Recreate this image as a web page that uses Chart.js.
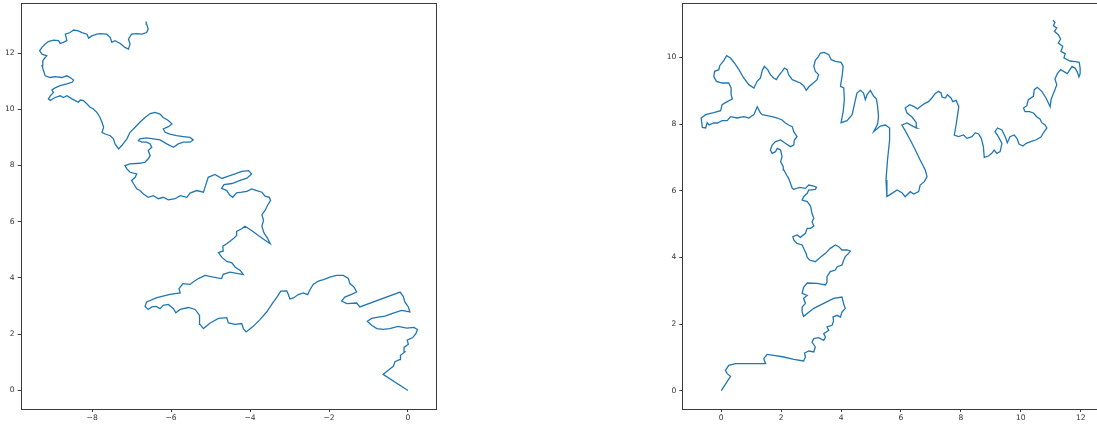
<!DOCTYPE html>
<html>
<head>
<meta charset="utf-8">
<script src="https://cdn.jsdelivr.net/npm/chart.js@4.4.1/dist/chart.umd.min.js"></script>
<style>
  html, body { margin: 0; padding: 0; background: #ffffff; overflow: hidden; width: 1097px; height: 426px; }
  #wrapL { position: absolute; left: 0px; top: 0px; width: 440px; height: 426px; }
  #wrapR { position: absolute; left: 660px; top: 0px; width: 445px; height: 426px; }
</style>
</head>
<body>
<div id="wrapL"><canvas id="cL" width="440" height="426"></canvas></div>
<div id="wrapR"><canvas id="cR" width="445" height="426"></canvas></div>
<script>
// ---------------- data: left path ----------------
const leftX = [
  0, -0.63, -0.5, -0.37, -0.33, -0.2, -0.19, -0.08, -0.1, 0.01, -0.02, 0.12, 0.2, 0.24, 0.15, -0.03, -0.25, -0.46, -0.63, -0.79, -0.92, -1.03, -0.92, -0.75, -0.58, -0.41, -0.16, 0.05, 0.01, -0.08, -0.12, -0.2,
  -1.22, -1.3, -1.55, -1.68, -1.6, -1.43, -1.3, -1.37, -1.47, -1.51, -1.64, -1.81, -1.98, -2.14, -2.27, -2.4, -2.48, -2.54, -2.65, -2.78, -2.9, -2.99, -3.03, -3.07, -3.22, -3.32, -3.45, -3.58, -3.75, -3.92, -4.1, -4.17, -4.21, -4.38, -4.55, -4.59, -4.8, -5.01,
  -5.18, -5.27, -5.28, -5.39, -5.56, -5.77, -5.88, -5.94, -6.07, -6.2, -6.28, -6.38, -6.49, -6.58, -6.66, -6.62, -6.36, -6.03, -5.77, -5.8, -5.7, -5.52, -5.44, -5.31, -5.14, -4.93, -4.72, -4.68, -4.51, -4.17,
  -4.25, -4.38, -4.46, -4.59, -4.72, -4.8, -4.68, -4.69, -4.59, -4.42, -4.34, -4.34, -4.21, -4.13, -3.96, -3.79, -3.62, -3.49, -3.56, -3.65, -3.7, -3.66, -3.7, -3.62, -3.56, -3.48, -3.51, -3.62, -3.7, -3.83, -3.96, -4.08, -4.21, -4.34, -4.44, -4.52, -4.59, -4.72, -4.66, -4.46, -4.25, -4.08, -3.96, -4.04, -4.21, -4.38, -4.55, -4.71, -4.89, -5.06,
  -5.14, -5.18, -5.35, -5.52, -5.6, -5.77, -5.9, -6.07, -6.2, -6.32, -6.45, -6.58, -6.7, -6.79, -6.87, -6.95, -7.0, -6.91, -6.87, -7.04, -7.12, -7.17, -7.04, -6.79, -6.66, -6.58, -6.53, -6.58, -6.49, -6.53, -6.62, -6.74, -6.83, -6.79, -6.62, -6.45, -6.28, -6.11, -5.94, -5.82, -5.69, -5.52, -5.44, -5.52, -5.69, -5.86, -6.03, -6.15, -6.2, -6.07, -5.98, -6.07, -6.2, -6.28, -6.41, -6.53, -6.66, -6.79, -6.91, -7.04, -7.12, -7.25, -7.33, -7.42, -7.46, -7.54, -7.67, -7.75, -7.71, -7.75, -7.8, -7.88, -7.97, -8.05,
  -8.13, -8.22, -8.3, -8.35, -8.43, -8.51, -8.64, -8.73, -8.81, -8.94, -9.06, -9.11, -9.06, -8.98, -9.02, -8.94, -8.81, -8.64, -8.51, -8.47, -8.56, -8.64, -8.77, -8.94, -9.06, -9.19, -9.23, -9.27, -9.25, -9.19, -9.15, -9.27, -9.33, -9.27, -9.19, -9.11, -8.98, -8.85, -8.81, -8.73, -8.64, -8.68, -8.56, -8.47, -8.35, -8.26, -8.13, -8.09, -8.01, -7.88, -7.8, -7.63, -7.54, -7.5, -7.42, -7.29, -7.17, -7.08, -7.04, -7.08, -7.0, -6.87, -6.74, -6.62, -6.58, -6.62, -6.63
];
const leftY = [
  0, 0.57, 0.72, 0.86, 1.02, 1.1, 1.25, 1.37, 1.53, 1.64, 1.79, 1.88, 2.02, 2.17, 2.24, 2.22, 2.28, 2.2, 2.17, 2.2, 2.32, 2.46, 2.56, 2.61, 2.64, 2.73, 2.85, 2.79, 2.97, 3.15, 3.35, 3.5,
  2.97, 3.11, 3.09, 3.18, 3.32, 3.42, 3.5, 3.68, 3.8, 3.98, 4.09, 4.09, 4.03, 3.94, 3.89, 3.77, 3.59, 3.41, 3.47, 3.41, 3.29, 3.25, 3.41, 3.54, 3.53, 3.32, 3.06, 2.79, 2.52, 2.28, 2.08, 2.2, 2.38, 2.35, 2.4, 2.59, 2.56, 2.4,
  2.2, 2.35, 2.67, 2.88, 2.95, 2.88, 2.76, 2.91, 3.06, 3.03, 2.91, 2.99, 2.97, 2.88, 2.99, 3.15, 3.3, 3.42, 3.47, 3.62, 3.8, 3.77, 3.86, 3.98, 4.09, 4.03, 3.98, 4.13, 4.21, 4.12,
  4.27, 4.39, 4.54, 4.59, 4.74, 4.9, 4.96, 5.13, 5.22, 5.4, 5.51, 5.66, 5.75, 5.84, 5.69, 5.51, 5.34, 5.22, 5.42, 5.61, 5.84, 6.05, 6.25, 6.4, 6.58, 6.76, 6.87, 6.91, 7.05, 7.11, 7.17, 7.08, 7.05, 7.03, 6.87, 6.96, 7.11, 7.19, 7.32, 7.36, 7.47, 7.55, 7.7, 7.82, 7.79, 7.7, 7.62, 7.54, 7.68, 7.58,
  7.23, 7.05, 7.11, 7.02, 6.87, 6.93, 6.82, 6.78, 6.87, 6.82, 6.93, 6.87, 6.99, 7.11, 7.17, 7.35, 7.47, 7.58, 7.7, 7.76, 7.88, 8.0, 8.06, 8.08, 8.12, 8.24, 8.35, 8.53, 8.65, 8.77, 8.83, 8.83, 8.89, 8.95, 8.98, 8.95, 8.91, 8.77, 8.65, 8.77, 8.83, 8.83, 8.91, 9.0, 9.03, 9.06, 9.12, 9.18, 9.3, 9.38, 9.48, 9.6, 9.71, 9.83, 9.89, 9.85, 9.71, 9.54, 9.36, 9.18, 8.95, 8.71, 8.59, 8.77, 8.95, 9.06, 9.12, 9.18, 9.36, 9.54, 9.71, 9.89, 10.01, 10.07,
  10.19, 10.31, 10.33, 10.25, 10.31, 10.37, 10.48, 10.42, 10.48, 10.42, 10.31, 10.37, 10.48, 10.6, 10.69, 10.76, 10.84, 10.9, 10.96, 11.04, 11.13, 11.19, 11.13, 11.16, 11.13, 11.19, 11.37, 11.55, 11.73, 11.84, 11.9, 11.96, 12.08, 12.2, 12.32, 12.41, 12.46, 12.44, 12.34, 12.38, 12.44, 12.67, 12.73, 12.82, 12.79, 12.73, 12.67, 12.53, 12.61, 12.67, 12.69, 12.67, 12.55, 12.38, 12.44, 12.34, 12.2, 12.14, 12.32, 12.5, 12.67, 12.69, 12.67, 12.73, 12.85, 13.03, 13.12
];

// ---------------- data: right path ----------------
const rightX = [
  0, 0.31, 0.2, 0.14, 0.25, 0.48, 0.87, 1.48, 1.42, 1.53, 1.75, 2.09, 2.42, 2.75, 2.81, 2.78, 2.92, 3.09, 3.14, 3.03, 3.09, 3.25, 3.42, 3.48, 3.42, 3.59, 3.53, 3.7, 3.75, 3.73, 3.87, 3.98, 4.03, 4.14, 4.09, 4.03, 3.75, 3.42, 3.09, 2.75,
  2.7, 2.7, 2.81, 2.75, 2.87, 2.7, 2.75, 2.87, 3.2, 3.48, 3.53, 3.53, 3.64, 3.81, 3.87, 4.03, 4.09, 4.14, 4.25, 4.31, 4.2, 4.03, 3.92, 3.81, 3.64, 3.48, 3.31, 3.14, 2.95, 2.87, 2.83, 2.75, 2.7, 2.53, 2.42, 2.39, 2.53, 2.64, 2.81, 2.87, 2.98, 3.09, 3.03, 3.09, 3.03,
  2.98, 2.87, 2.7, 2.75, 2.87, 2.92, 3.14, 3.18, 3.09, 2.92, 2.81, 2.62, 2.42, 2.37, 2.31, 2.25, 2.18, 2.09, 2.07, 1.98, 2.03, 1.98, 1.87, 1.81, 1.7, 1.64, 1.7, 1.81, 1.98, 2.14, 2.31, 2.42, 2.44, 2.53, 2.42, 2.37, 2.25, 2.14, 2.03, 1.87, 1.7, 1.53, 1.37, 1.31, 1.2,
  1.09, 0.92, 0.75, 0.53, 0.31, 0.2, 0.03, -0.13, -0.25, -0.41, -0.47, -0.52, -0.63, -0.67, -0.52, -0.25, -0.02, 0.03, 0.2, 0.37, 0.33, 0.33, 0.25, 0.03, -0.16, -0.25, -0.22, -0.08, -0.05, 0.09, 0.18, 0.31, 0.44, 0.59, 0.75, 0.92, 1.09, 1.2, 1.31, 1.37, 1.44, 1.55, 1.64, 1.75, 1.84,
  1.92, 2.03, 2.11, 2.2, 2.25, 2.37, 2.51, 2.64, 2.75, 2.84, 2.92, 3.07, 3.2, 3.25, 3.14, 3.09, 3.14, 3.25, 3.31, 3.44, 3.59, 3.67, 3.81, 4.0, 4.07, 4.04, 3.98, 4.09, 4.11, 4.07, 4.0, 4.2, 4.37, 4.48, 4.53, 4.64, 4.75, 4.81, 4.87, 4.98, 5.09, 5.18, 5.22, 5.25, 5.22, 5.09, 5.31, 5.48, 5.62, 5.62,
  5.55, 5.5, 5.53, 5.7, 5.87, 6.03, 6.14, 6.31, 6.42, 6.59, 6.64, 6.78, 6.87, 6.81, 6.64, 6.48, 6.31, 6.14, 6.03, 6.2, 6.42, 6.53, 6.51, 6.37, 6.2, 6.14, 6.29, 6.44, 6.55, 6.64, 6.78, 6.92, 7.03, 7.14, 7.25, 7.34, 7.37, 7.48, 7.55, 7.67, 7.73, 7.84, 7.93, 7.89, 7.84,
  7.78, 7.92, 8.09, 8.2, 8.37, 8.48, 8.59, 8.68, 8.75, 8.78, 8.92, 9.03, 9.11, 9.2, 9.31, 9.37, 9.25, 9.14, 9.22, 9.37, 9.48, 9.55, 9.64, 9.78, 9.87, 9.94, 10.07, 10.18, 10.33, 10.5, 10.67, 10.75, 10.87, 10.81, 10.7, 10.64, 10.53, 10.42, 10.29, 10.14,
  10.09, 10.2, 10.25, 10.42, 10.45, 10.55, 10.7, 10.84, 10.98, 11.01, 11.07, 11.14, 11.2, 11.14, 11.22, 11.33, 11.44, 11.55, 11.64, 11.71, 11.82, 11.89, 11.94, 11.98, 11.98, 11.95, 11.81, 11.64, 11.44, 11.48, 11.34, 11.4, 11.25, 11.33, 11.25, 11.12, 11.2, 11.09, 11.14, 11.07
];
const rightY = [
  0, 0.43, 0.51, 0.61, 0.76, 0.81, 0.81, 0.81, 0.96, 1.09, 1.06, 1.01, 0.94, 0.89, 1.01, 1.13, 1.19, 1.16, 1.31, 1.46, 1.56, 1.59, 1.51, 1.61, 1.71, 1.81, 1.91, 1.96, 2.09, 2.21, 2.26, 2.21, 2.36, 2.47, 2.59, 2.81, 2.77, 2.62, 2.47, 2.23,
  2.36, 2.51, 2.62, 2.77, 2.86, 2.92, 3.1, 3.23, 3.22, 3.17, 3.26, 3.42, 3.57, 3.62, 3.72, 3.77, 3.92, 4.02, 4.12, 4.19, 4.22, 4.22, 4.32, 4.37, 4.27, 4.12, 4.0, 3.87, 3.92, 4.0, 4.12, 4.27, 4.37, 4.42, 4.52, 4.62, 4.67, 4.6, 4.72, 4.87, 4.87, 4.94, 5.07, 5.17, 5.32,
  5.54, 5.67, 5.72, 5.82, 5.92, 6.02, 6.04, 6.1, 6.14, 6.17, 6.07, 6.1, 6.04, 6.07, 6.22, 6.37, 6.47, 6.62, 6.72, 6.87, 7.02, 7.22, 7.27, 7.17, 7.12, 7.22, 7.37, 7.47, 7.52, 7.42, 7.32, 7.37, 7.52, 7.62, 7.77, 7.92, 7.97, 8.03, 8.12, 8.18, 8.22, 8.25, 8.28, 8.33, 8.52,
  8.28, 8.18, 8.22, 8.18, 8.22, 8.1, 8.1, 8.03, 8.03, 7.97, 8.04, 7.88, 7.9, 8.18, 8.28, 8.34, 8.4, 8.58, 8.67, 8.75, 8.88, 9.08, 9.23, 9.23, 9.28, 9.43, 9.58, 9.63, 9.75, 9.91, 10.05, 9.98, 9.83, 9.63, 9.38, 9.18, 9.08, 9.28, 9.38, 9.61, 9.73, 9.63, 9.48, 9.38, 9.33,
  9.45, 9.58, 9.68, 9.63, 9.48, 9.33, 9.28, 9.23, 9.15, 9.01, 9.11, 9.23, 9.33, 9.48, 9.58, 9.73, 9.91, 10.03, 10.13, 10.15, 10.08, 9.93, 9.88, 9.85, 9.73, 9.48, 9.13, 9.08, 8.73, 8.37, 8.04, 8.1, 8.28, 8.73, 8.93, 9.01, 8.93, 8.73, 8.88, 9.01, 8.83, 8.75, 8.52, 8.22, 8.0, 7.77, 7.94, 7.97, 7.88, 7.52,
  6.92, 6.32, 5.82, 5.92, 6.02, 5.94, 5.82, 5.97, 5.9, 5.97, 6.17, 6.27, 6.42, 6.62, 6.92, 7.22, 7.52, 7.8, 7.97, 8.03, 7.92, 7.88, 8.04, 8.21, 8.33, 8.48, 8.58, 8.52, 8.45, 8.52, 8.61, 8.67, 8.78, 8.91, 8.98, 8.93, 8.81, 8.78, 8.88, 8.78, 8.67, 8.71, 8.52, 8.28, 7.97,
  7.67, 7.62, 7.67, 7.57, 7.62, 7.74, 7.7, 7.57, 7.32, 7.0, 7.04, 7.12, 7.22, 7.12, 7.17, 7.42, 7.62, 7.77, 7.88, 7.82, 7.62, 7.44, 7.62, 7.67, 7.57, 7.4, 7.34, 7.42, 7.47, 7.52, 7.61, 7.73, 7.88, 7.97, 8.04, 8.15, 8.22, 8.33, 8.37, 8.37,
  8.48, 8.55, 8.73, 8.83, 9.03, 9.1, 8.98, 8.78, 8.52, 8.73, 8.88, 9.03, 9.18, 9.35, 9.51, 9.63, 9.57, 9.51, 9.63, 9.73, 9.67, 9.55, 9.41, 9.51, 9.68, 9.85, 9.87, 9.89, 9.98, 10.11, 10.18, 10.33, 10.43, 10.55, 10.68, 10.78, 10.88, 10.95, 11.05, 11.11
];

// ---------------- axes: limits and tick labels ----------------
const leftXRange = [-9.81, 0.71];
const leftYRange = [-0.66, 13.78];
const rightXRange = [-1.3, 12.61];
const rightYRange = [-0.55, 11.63];
const leftXTicks = [-8, -6, -4, -2, 0];
const leftYTicks = [0, 2, 4, 6, 8, 10, 12];
const rightXTicks = [0, 2, 4, 6, 8, 10, 12];
const rightYTicks = [0, 2, 4, 6, 8, 10];

// ---------------- rendering ----------------
const LINE_COLOR = '#1f77b4';
const AXIS_COLOR = '#3c3c3c';
const TEXT_COLOR = '#333333';
const FONT = { family: 'DejaVu Sans', size: 7.6 };

function zip(xs, ys) { return xs.map((x, i) => ({ x: x, y: ys[i] })); }

const framePlugin = {
  id: 'frame',
  afterDraw(chart) {
    const a = chart.chartArea, ctx = chart.ctx;
    ctx.save();
    ctx.strokeStyle = AXIS_COLOR;
    ctx.lineWidth = 1;
    ctx.strokeRect(Math.round(a.left) + 0.5, Math.round(a.top) + 0.5,
                   Math.round(a.right - a.left), Math.round(a.bottom - a.top));
    ctx.restore();
  }
};

function makeAxis(range, ticks, isX, fitSize) {
  return {
    type: 'linear',
    position: isX ? 'bottom' : 'left',
    min: range[0],
    max: range[1],
    afterBuildTicks: (scale) => { scale.ticks = ticks.map(v => ({ value: v })); },
    afterFit: (scale) => {
      if (isX) scale.height = fitSize; else scale.width = fitSize;
      scale.paddingTop = 0; scale.paddingBottom = 0;
      scale.paddingLeft = 0; scale.paddingRight = 0;
    },
    grid: { display: true, drawOnChartArea: false, drawTicks: true, tickLength: 3, tickColor: AXIS_COLOR, tickWidth: 1 },
    border: { display: false },
    ticks: {
      color: TEXT_COLOR,
      font: FONT,
      padding: isX ? 1 : 3,
      maxRotation: 0,
      autoSkip: false,
      callback: (v) => (v < 0 ? '\u2212' + Math.abs(v) : String(v))
    }
  };
}

function makeChart(id, xs, ys, xr, yr, xt, yt, yAxisWidth, padRight) {
  return new Chart(document.getElementById(id), {
    type: 'scatter',
    data: {
      datasets: [{
        data: zip(xs, ys),
        showLine: true,
        borderColor: LINE_COLOR,
        borderWidth: 1.3,
        pointRadius: 0,
        pointHoverRadius: 0,
        tension: 0,
        fill: false
      }]
    },
    options: {
      responsive: false,
      animation: false,
      devicePixelRatio: 1,
      layout: { padding: { top: 3, right: padRight, left: 0, bottom: 0 } },
      plugins: { legend: { display: false }, tooltip: { enabled: false } },
      scales: {
        x: makeAxis(xr, xt, true, 17),
        y: makeAxis(yr, yt, false, yAxisWidth)
      }
    },
    plugins: [framePlugin]
  });
}

makeChart('cL', leftX, leftY, leftXRange, leftYRange, leftXTicks, leftYTicks, 20.7, 4);
makeChart('cR', rightX, rightY, rightXRange, rightYRange, rightXTicks, rightYTicks, 22.3, 6);
</script>
</body>
</html>
